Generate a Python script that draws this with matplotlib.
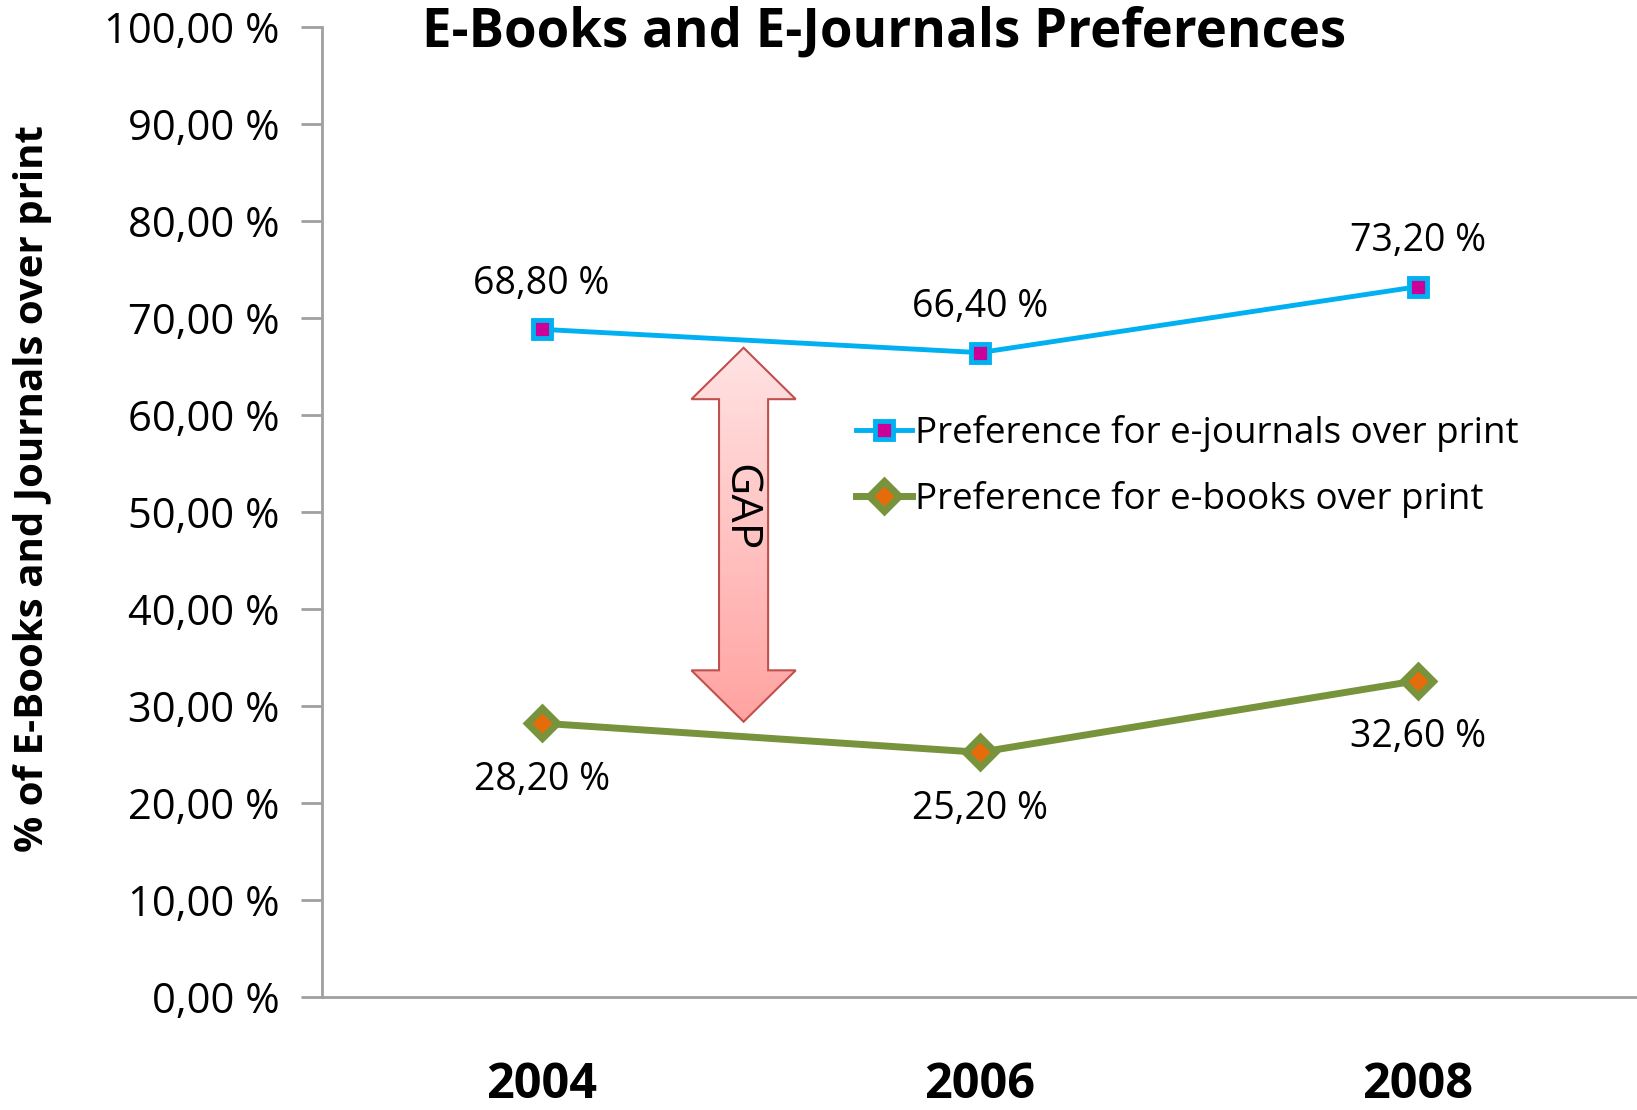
import numpy as np
import matplotlib
matplotlib.use("Agg")
import matplotlib.pyplot as plt
from matplotlib.patches import Polygon

plt.rcParams['font.family'] = ['Open Sans', 'DejaVu Sans']

years = ['2004', '2006', '2008']
journals = [68.8, 66.4, 73.2]
books = [28.2, 25.2, 32.6]
journals_label = 'Preference for e-journals over print'
books_label = 'Preference for e-books over print'

fig = plt.figure(figsize=(16.37, 11.10), dpi=100)
ax = fig.add_axes([0.197, 0.102, 0.803, 0.874])

x = np.arange(len(years))
ax.plot(x, journals, color='#00B0F0', lw=3.5, marker='s', ms=13,
        mfc='#CC0099', mec='#00B0F0', mew=3.5, label=journals_label, zorder=3)
ax.plot(x, books, color='#77933C', lw=5, marker='D', ms=15,
        mfc='#E46C0A', mec='#77933C', mew=5, label=books_label, zorder=3)

def fmt(v):
    return f'{v:.2f} %'.replace('.', ',')

for xi, v in zip(x, journals):
    ax.annotate(fmt(v), (xi, v), xytext=(0, 19), textcoords='offset points',
                ha='center', va='bottom', fontsize=27)
for xi, v in zip(x, books):
    ax.annotate(fmt(v), (xi, v), xytext=(0, -27), textcoords='offset points',
                ha='center', va='top', fontsize=27)

# GAP double arrow
cx, hw, sw = 0.461, 0.119, 0.056
top, bot, hl = 66.9, 28.35, 5.3
pts = [(cx, top), (cx + hw, top - hl), (cx + sw, top - hl), (cx + sw, bot + hl),
       (cx + hw, bot + hl), (cx, bot), (cx - hw, bot + hl), (cx - sw, bot + hl),
       (cx - sw, top - hl), (cx - hw, top - hl)]
arrow = Polygon(pts, closed=True, fc='none', ec='#C0504D', lw=1.5, zorder=2)
ax.add_patch(arrow)
grad = np.linspace(0, 1, 256).reshape(-1, 1)
cmap = matplotlib.colors.LinearSegmentedColormap.from_list('g', ['#FFA3A1', '#FFE3E3'])
im = ax.imshow(grad, extent=[cx - hw, cx + hw, bot, top], origin='lower',
               cmap=cmap, aspect='auto', zorder=1)
im.set_clip_path(arrow)
ax.text(cx - 0.01, 50.4, 'GAP', rotation=-90, ha='center', va='center',
        fontsize=32, zorder=4)

ax.set_xlim(-0.5, 2.5)
ax.set_ylim(0, 100)
ax.set_xticks(x)
ax.set_xticklabels(years, fontsize=35, fontweight='bold')
ax.tick_params(axis='x', length=0, pad=46)
ax.set_yticks(np.arange(0, 101, 10))
ax.set_yticklabels([fmt(v) for v in np.arange(0, 101, 10)], fontsize=30)
ax.tick_params(axis='y', length=15, width=2, color='#A0A0A0', pad=16)
for s in ['top', 'right']:
    ax.spines[s].set_visible(False)
for s in ['left', 'bottom']:
    ax.spines[s].set_color('#A0A0A0')
    ax.spines[s].set_linewidth(2)

fig.text(0.02, 0.56, '% of E-Books and Journals over print', rotation=90,
         ha='center', va='center', fontsize=29, fontweight='bold')
fig.text(0.54, 0.971, 'E-Books and E-Journals Preferences', ha='center', va='center',
         fontsize=38, fontweight='bold')

ax.legend(loc='upper left', bbox_to_anchor=(0.395, 0.615), frameon=False,
          fontsize=26.5, handlelength=1.5, handletextpad=0.1, labelspacing=0.8,
          borderaxespad=0)

fig.savefig('out.png', dpi=100)
